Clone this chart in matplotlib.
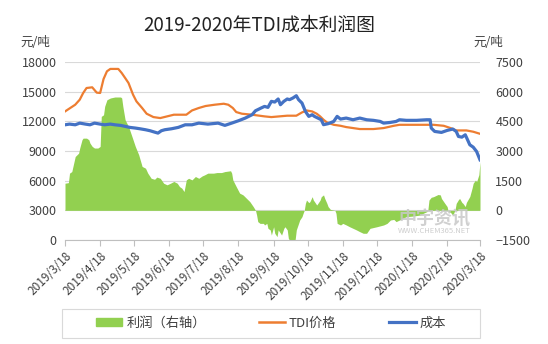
import matplotlib

matplotlib.use("Agg")
import matplotlib.pyplot as plt  # noqa: E402
import pandas as pd  # noqa: E402
from matplotlib.lines import Line2D  # noqa: E402
from matplotlib.patches import Patch, Rectangle  # noqa: E402

plt.rcParams["font.family"] = ["Noto Sans CJK SC", "DejaVu Sans"]

START = pd.Timestamp("2019-03-18")

# TDI price (left axis), days since 2019/3/18
price_day = [0, 9, 13, 16, 19, 24, 28, 31, 34, 37,
             40, 47, 50, 53, 56, 60, 63, 68, 72, 78,
             84, 96, 107, 112, 118, 124, 132, 140, 144, 148,
             151, 156, 165, 176, 182, 196, 204, 209, 213, 218,
             222, 225, 228, 231, 237, 243, 248, 260, 272, 281,
             290, 295, 325, 334, 340, 345, 354, 360, 366]
price = [13000, 13680, 14190, 14860, 15370, 15440, 14900, 14870, 16280, 17060,
         17300, 17300, 16890, 16390, 15880, 14700, 14020, 13350, 12770, 12430,
         12330, 12670, 12670, 13100, 13350, 13550, 13680, 13780, 13680, 13350,
         12940, 12770, 12670, 12500, 12430, 12570, 12570, 12900, 13100, 13000,
         12770, 12500, 12160, 11890, 11650, 11550, 11420, 11220, 11220, 11320,
         11550, 11650, 11650, 11550, 11320, 11080, 11080, 10950, 10740]

# cost (left axis)
cost_day = [0, 4, 9, 13, 18, 22, 26, 31, 35, 40,
            44, 49, 53, 57, 62, 66, 71, 75, 79, 82,
            85, 88, 94, 100, 106, 112, 118, 126, 135, 141,
            147, 153, 159, 165, 168, 170, 173, 176, 179, 182,
            185, 188, 190, 193, 196, 198, 201, 204, 206, 209,
            212, 215, 218, 220, 223, 226, 228, 232, 237, 240,
            243, 248, 254, 260, 266, 272, 278, 281, 287, 292,
            295, 301, 310, 319, 322, 323, 326, 332, 337, 342,
            345, 347, 350, 353, 355, 357, 360, 363, 366]
cost = [11650, 11720, 11650, 11820, 11720, 11650, 11820, 11720, 11650, 11720,
        11650, 11590, 11490, 11390, 11320, 11250, 11150, 11050, 10910, 10810,
        11050, 11150, 11250, 11390, 11650, 11650, 11820, 11720, 11820, 11590,
        11820, 12060, 12330, 12670, 13070, 13180, 13350, 13510, 13410, 14020,
        13950, 14260, 13680, 14020, 14260, 14190, 14360, 14590, 14190, 13850,
        13010, 12500, 12670, 12500, 12330, 12160, 11660, 11760, 11990, 12500,
        12230, 12330, 12160, 12330, 12160, 12100, 11990, 11820, 11890, 11990,
        12160, 12100, 12100, 12160, 12160, 11320, 10980, 10880, 11080, 11220,
        10980, 10470, 10400, 10640, 10140, 9630, 9390, 8950, 8110]

# profit (right axis)
profit_day = [0, 3, 4, 6, 9, 12, 13, 15, 16, 19,
              21, 22, 24, 26, 29, 31, 32, 34, 35, 37,
              40, 44, 49, 50, 51, 53, 56, 59, 62, 65,
              68, 71, 73, 76, 79, 81, 84, 87, 90, 93,
              96, 99, 101, 103, 105, 107, 109, 112, 115, 118,
              121, 123, 126, 131, 134, 138, 141, 146, 147, 148,
              151, 154, 157, 160, 163, 166, 168, 169, 170, 172,
              175, 176, 178, 179, 181, 182, 184, 185, 187, 188,
              190, 191, 193, 194, 196, 197, 198, 201, 203, 204,
              206, 207, 209, 210, 211, 212, 213, 215, 216, 218,
              219, 220, 222, 223, 225, 226, 228, 229, 231, 232,
              234, 238, 239, 240, 243, 245, 248, 251, 254, 257,
              260, 263, 266, 269, 275, 281, 284, 287, 290, 292,
              295, 298, 301, 307, 313, 316, 319, 320, 321, 323,
              325, 329, 331, 332, 335, 337, 338, 340, 342, 344,
              345, 347, 348, 350, 351, 353, 354, 356, 357, 359,
              360, 362, 363, 365, 366]
profit = [1370, 1400, 1880, 1960, 2720, 2890, 3150, 3570, 3650, 3650,
          3570, 3400, 3230, 3150, 3150, 3230, 4750, 4830, 5260, 5590,
          5680, 5730, 5730, 5680, 5260, 4580, 4240, 3740, 3230, 2810,
          2220, 2130, 1880, 1620, 1570, 1680, 1620, 1370, 1290, 1370,
          1460, 1370, 1200, 1120, 950, 1540, 1620, 1540, 1710, 1620,
          1740, 1790, 1880, 1880, 1910, 1910, 1960, 2000, 1880, 1540,
          1200, 870, 780, 610, 440, 190, 0, -240, -570, -660,
          -660, -740, -660, -910, -990, -1250, -830, -1160, -1330, -990,
          -1160, -1250, -910, -830, -990, -1420, -1500, -1500, -1470, -990,
          -660, -490, -320, -150, 0, 350, 520, 390, 440, 690,
          520, 440, 270, 350, 520, 690, 780, 610, 350, 190,
          50, 0, -150, -660, -740, -660, -740, -830, -910, -990,
          -1080, -1160, -1160, -910, -830, -740, -660, -490, -460, -570,
          -490, -400, -320, -290, -240, -150, -70, 0, 520, 660,
          690, 800, 780, 600, 350, 190, -70, -100, -250, 20,
          350, 540, 600, 400, 350, 190, 400, 600, 700, 1120,
          1370, 1530, 1450, 1800, 2450]

assert len(price_day) == len(price)
assert len(cost_day) == len(cost)
assert len(profit_day) == len(profit)

GREEN = "#92d050"
ORANGE = "#ed7d31"
BLUE = "#4472c4"
TXT = "#404040"


def to_dates(days):
    return START + pd.to_timedelta(days, unit="D")


fig = plt.figure(figsize=(5.48, 3.44), dpi=100)
ax1 = fig.add_axes([65 / 548, 104 / 344, 415 / 548, 178 / 344])
ax2 = ax1.twinx()
ax1.set_zorder(ax2.get_zorder() + 1)
ax1.patch.set_visible(False)

# profit area on the right axis, grid behind it
ax2.fill_between(to_dates(profit_day), profit, 0, color=GREEN, lw=0, zorder=2)
ax2.set_ylim(-1500, 7500)
ax2.set_yticks(range(-1500, 7501, 1500))
ax2.yaxis.grid(True, color="#d9d9d9", lw=0.8, zorder=0)
ax2.set_axisbelow(True)

ax1.plot(to_dates(price_day), price, color=ORANGE, lw=1.6, zorder=3)
ax1.plot(to_dates(cost_day), cost, color=BLUE, lw=2.3, zorder=4)
ax1.set_ylim(0, 18000)
ax1.set_yticks(range(0, 18001, 3000))
ax1.set_xlim(START, START + pd.Timedelta(days=366))

ticks = [START + pd.DateOffset(months=i) for i in range(13)]
ax1.set_xticks(ticks)
ax1.set_xticklabels([f"{d.year}/{d.month}/{d.day}" for d in ticks],
                    rotation=45, ha="right", rotation_mode="anchor", fontsize=8.5,
                    color=TXT)

for ax in (ax1, ax2):
    for s in ax.spines.values():
        s.set_visible(False)
ax1.spines["bottom"].set_visible(True)
ax1.spines["bottom"].set_color("#bfbfbf")

ax1.tick_params(axis="x", length=4, color="#bfbfbf", pad=3)
ax1.tick_params(axis="y", length=0, pad=6, labelsize=9, labelcolor=TXT)
ax2.tick_params(axis="y", length=0, pad=11, labelsize=9, labelcolor=TXT)

# watermark
ax1.text(0.89, 0.12, "中宇资讯", transform=ax1.transAxes, ha="center",
         va="center", fontsize=13, fontweight="bold", color="#c8c8c8",
         alpha=0.85, zorder=5)
ax1.text(0.89, 0.05, "WWW.CHEM365.NET", transform=ax1.transAxes,
         ha="center", va="center", fontsize=5.5, color="#c8c8c8", alpha=0.9,
         zorder=5)

fig.text(259 / 548, 1 - 25 / 344, "2019-2020年TDI成本利润图", ha="center",
         va="center", fontsize=13.5, color="#222222")
fig.text(20 / 548, 1 - 43 / 344, "元/吨", ha="left", va="center", fontsize=9,
         color=TXT)
fig.text(473 / 548, 1 - 43 / 344, "元/吨", ha="left", va="center", fontsize=9,
         color=TXT)

handles = [Patch(color=GREEN), Line2D([], [], color=ORANGE, lw=1.8),
           Line2D([], [], color=BLUE, lw=2.3)]
fig.legend(handles, ["利润（右轴）", "TDI价格", "成本"], loc="center",
           bbox_to_anchor=(271 / 548, 1 - 323 / 344), ncol=3, frameon=False,
           fontsize=9.5, handlelength=2.0, handleheight=0.6, handletextpad=0.3,
           columnspacing=4.0, labelcolor=TXT)
fig.add_artist(Rectangle((62 / 548, 1 - 338 / 344), 418 / 548, 29 / 344,
                         transform=fig.transFigure, fill=False,
                         edgecolor="#d9d9d9", lw=0.8))

fig.savefig("out.png", dpi=100)
